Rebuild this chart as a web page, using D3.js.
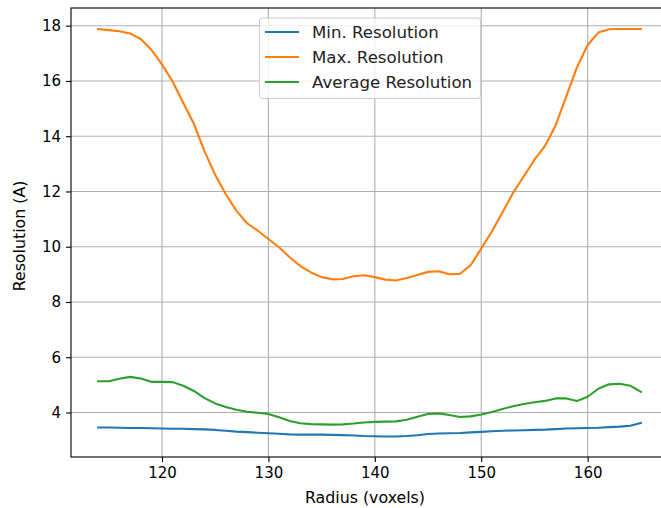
<!DOCTYPE html>
<html><head><meta charset="utf-8">
<script src="https://cdn.jsdelivr.net/npm/d3@7"></script>
<style>body{margin:0;background:#fff}svg{display:block}text{font-family:"DejaVu Sans",sans-serif}</style>
</head><body>
<script>
const radius = d3.range(114, 166);
const minRes = [3.46,3.46,3.45,3.44,3.44,3.43,3.42,3.41,3.41,3.40,3.39,3.37,3.34,3.31,3.29,3.27,3.25,3.23,3.21,3.20,3.20,3.20,3.19,3.18,3.17,3.15,3.14,3.13,3.13,3.15,3.18,3.22,3.24,3.25,3.26,3.28,3.30,3.32,3.34,3.35,3.36,3.37,3.38,3.40,3.42,3.43,3.44,3.45,3.47,3.49,3.52,3.62];
const maxRes = [17.88,17.84,17.80,17.72,17.52,17.13,16.60,15.98,15.20,14.45,13.45,12.60,11.90,11.30,10.85,10.58,10.28,9.98,9.62,9.30,9.07,8.90,8.82,8.83,8.93,8.97,8.90,8.81,8.78,8.87,8.98,9.09,9.11,9.00,9.02,9.33,9.93,10.55,11.25,11.95,12.55,13.15,13.65,14.40,15.45,16.50,17.30,17.75,17.87,17.88,17.88,17.88];
const avgRes = [5.13,5.13,5.22,5.29,5.23,5.11,5.11,5.10,4.97,4.78,4.52,4.33,4.20,4.10,4.03,3.99,3.95,3.83,3.69,3.61,3.58,3.57,3.56,3.57,3.60,3.64,3.66,3.67,3.68,3.74,3.85,3.95,3.97,3.91,3.84,3.86,3.93,4.02,4.13,4.23,4.31,4.37,4.42,4.51,4.51,4.42,4.57,4.86,5.02,5.04,4.97,4.75];
const seriesNames = ["Min. Resolution","Max. Resolution","Average Resolution"];
const colors = ["#1f77b4","#ff7f0e","#2ca02c"];
const xTicks = [120,130,140,150,160];
const yTicks = [4,6,8,10,12,14,16,18];

const W = 661, H = 508;
const L = 71, R = 668, T = 8, B = 457;
const svg = d3.select("body").append("svg").attr("width", W).attr("height", H);

const x = d3.scaleLinear().domain([111.45, 167.55]).range([L, R]);
const y = d3.scaleLinear().domain([2.39, 18.64]).range([B, T]);

// grid
const g = svg.append("g");
g.selectAll(".gx").data(xTicks).enter().append("line")
  .attr("x1", d => x(d)).attr("x2", d => x(d)).attr("y1", T).attr("y2", B)
  .attr("stroke", "#b0b0b0").attr("stroke-width", 1.1);
g.selectAll(".gy").data(yTicks).enter().append("line")
  .attr("x1", L).attr("x2", R).attr("y1", d => y(d)).attr("y2", d => y(d))
  .attr("stroke", "#b0b0b0").attr("stroke-width", 1.1);

// axes
const xAxis = d3.axisBottom(x).tickValues(xTicks).tickSize(5).tickPadding(5).tickFormat(d3.format("d"));
const yAxis = d3.axisLeft(y).tickValues(yTicks).tickSize(5).tickPadding(5).tickFormat(d3.format("d"));
const ax = svg.append("g").attr("transform", `translate(0,${B})`).call(xAxis);
const ay = svg.append("g").attr("transform", `translate(${L},0)`).call(yAxis);
[ax, ay].forEach(a => {
  a.select(".domain").remove();
  a.selectAll("line").attr("stroke", "#000").attr("stroke-width", 1.1);
  a.selectAll("text").attr("font-size", 15).attr("fill", "#000").attr("font-family", "DejaVu Sans");
});

// lines
const data = [minRes, maxRes, avgRes];
const line = d3.line().x((d, i) => x(radius[i])).y(d => y(d));
svg.append("g").selectAll("path.s").data(data).enter().append("path")
  .attr("d", line).attr("fill", "none").attr("stroke", (d, i) => colors[i])
  .attr("stroke-width", 2.1).attr("stroke-linejoin", "round").attr("stroke-linecap", "square");

// spines
svg.append("rect").attr("x", L).attr("y", T).attr("width", R - L).attr("height", B - T)
  .attr("fill", "none").attr("stroke", "#000").attr("stroke-width", 1.1);

// labels
svg.append("text").attr("x", 365).attr("y", 503).attr("text-anchor", "middle")
  .attr("font-size", 15.8).text("Radius (voxels)");
svg.append("text").attr("transform", `translate(25,236) rotate(-90)`)
  .attr("text-anchor", "middle").attr("font-size", 15.8).text("Resolution (A)");

// legend
const lg = svg.append("g");
lg.append("rect").attr("x", 259.5).attr("y", 18).attr("width", 221).attr("height", 80.5)
  .attr("rx", 3).attr("fill", "#fff").attr("fill-opacity", 0.8).attr("stroke", "#cccccc").attr("stroke-width", 1);
const rowsY = [32, 57, 82];
seriesNames.forEach((n, i) => {
  lg.append("line").attr("x1", 265).attr("x2", 299).attr("y1", rowsY[i]).attr("y2", rowsY[i])
    .attr("stroke", colors[i]).attr("stroke-width", 2.1);
  lg.append("text").attr("x", 312).attr("y", rowsY[i]).attr("dy", "0.36em")
    .attr("font-size", 16.6).attr("fill", "#222").text(n);
});
</script>
</body></html>
